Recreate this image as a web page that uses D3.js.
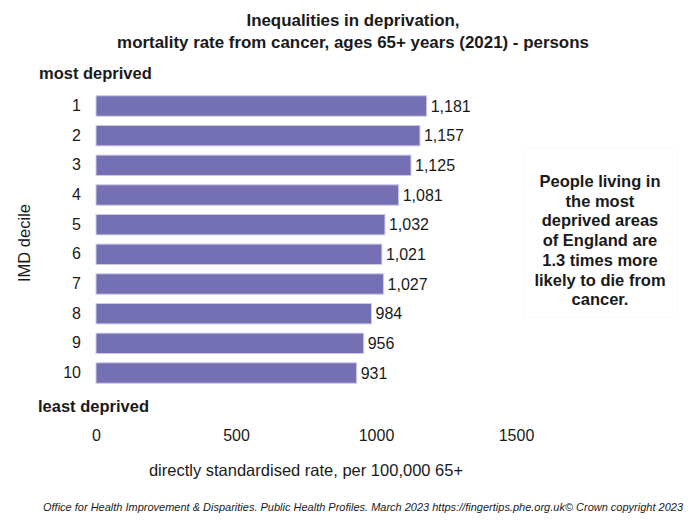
<!DOCTYPE html>
<html>
<head>
<meta charset="utf-8">
<script src="https://cdn.jsdelivr.net/npm/d3@7"></script>
<style>
  body { margin: 0; background: #fff; }
  svg { display: block; font-family: "Liberation Sans", Arial, sans-serif; }
</style>
</head>
<body>
<svg id="chart" width="692" height="520"></svg>
<script>
// IMD deciles, most deprived (1) to least deprived (10)
const deciles = ["1", "2", "3", "4", "5", "6", "7", "8", "9", "10"];
// Directly standardised mortality rate from cancer, per 100,000 aged 65+
const rates = [1181, 1157, 1125, 1081, 1032, 1021, 1027, 984, 956, 931];
const xTicks = [0, 500, 1000, 1500];

const titleLines = [
  "Inequalities in deprivation,",
  "mortality rate from cancer, ages 65+ years (2021) - persons"
];
const calloutLines = [
  "People living in", "the most", "deprived areas", "of England are",
  "1.3 times more", "likely to die from", "cancer."
];
const footer = "Office for Health Improvement & Disparities. Public Health Profiles. March 2023  https://fingertips.phe.org.uk\u00A9 Crown copyright 2023";

const ink = "#1a1a1a";
const svg = d3.select("#chart");
const data = deciles.map((d, i) => ({ decile: d, value: rates[i] }));

const x = d3.scaleLinear().domain([0, 1500]).range([96, 516]);
const y = d3.scaleBand().domain(deciles).range([91, 388]).paddingInner(0.31).paddingOuter(0.16);

// Title
svg.append("g").selectAll("text").data(titleLines).join("text")
  .attr("x", 353).attr("y", (d, i) => 26 + i * 22)
  .attr("text-anchor", "middle").attr("font-size", 16.9).attr("font-weight", "bold")
  .attr("fill", ink).text(d => d);

// Bars
svg.append("g").selectAll("rect").data(data).join("rect")
  .attr("x", x(0)).attr("y", d => y(d.decile))
  .attr("width", d => x(d.value) - x(0)).attr("height", y.bandwidth())
  .attr("fill", "#7570b3").attr("stroke", "#cfcce9").attr("stroke-width", 1);

// Value labels
svg.append("g").selectAll("text").data(data).join("text")
  .attr("x", d => x(d.value) + 4).attr("y", d => y(d.decile) + y.bandwidth() / 2)
  .attr("dy", "0.36em").attr("font-size", 16).attr("fill", ink)
  .text(d => d3.format(",")(d.value));

// Decile category axis (labels only)
const yAxis = d3.axisLeft(y).tickSize(0).tickPadding(0);
const yg = svg.append("g").attr("transform", "translate(81,0)").call(yAxis);
yg.select(".domain").remove();
yg.selectAll("text").attr("font-size", 16).attr("fill", ink)
  .attr("font-family", "Liberation Sans, Arial, sans-serif");

// Value axis (labels only)
const xAxis = d3.axisBottom(x).tickValues(xTicks).tickFormat(d3.format("d")).tickSize(0).tickPadding(0);
const xg = svg.append("g").attr("transform", "translate(0,430)").call(xAxis);
xg.select(".domain").remove();
xg.selectAll("text").attr("font-size", 16).attr("fill", ink)
  .attr("font-family", "Liberation Sans, Arial, sans-serif");

// Ends of the deprivation scale
svg.append("text").attr("x", 39).attr("y", 79).attr("font-size", 16.5)
  .attr("font-weight", "bold").attr("fill", ink).text("most deprived");
svg.append("text").attr("x", 38).attr("y", 412).attr("font-size", 16.5)
  .attr("font-weight", "bold").attr("fill", ink).text("least deprived");

// Axis titles
svg.append("text").attr("transform", "translate(30,243) rotate(-90)")
  .attr("text-anchor", "middle").attr("font-size", 16.5).attr("fill", ink).text("IMD decile");
svg.append("text").attr("x", 306).attr("y", 476).attr("text-anchor", "middle")
  .attr("font-size", 16.5).attr("fill", ink).text("directly standardised rate, per 100,000 65+");

// Callout
svg.append("rect").attr("x", 523.5).attr("y", 147.5).attr("width", 154).attr("height", 170)
  .attr("fill", "#fff").attr("stroke", "#fafafa");
svg.append("g").selectAll("text").data(calloutLines).join("text")
  .attr("x", 600).attr("y", (d, i) => 187 + i * 19.7)
  .attr("text-anchor", "middle").attr("font-size", 16.5).attr("font-weight", "bold")
  .attr("fill", ink).text(d => d);

// Source line
svg.append("text").attr("x", 363).attr("y", 511).attr("text-anchor", "middle")
  .attr("font-size", 10.5).attr("font-style", "italic").attr("fill", ink)
  .attr("textLength", 640).attr("lengthAdjust", "spacingAndGlyphs").text(footer);
</script>
</body>
</html>
